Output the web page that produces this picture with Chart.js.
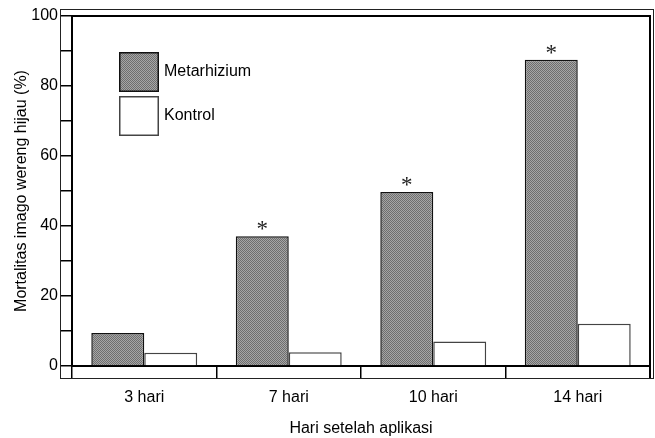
<!DOCTYPE html>
<html>
<head>
<meta charset="utf-8">
<script src="https://cdn.jsdelivr.net/npm/chart.js@4/dist/chart.umd.min.js"></script>
<style>
  html, body { margin: 0; padding: 0; background: #fff; }
  #wrap { width: 655px; height: 438px; position: relative; }
</style>
</head>
<body>
<div id="wrap"><canvas id="c" width="655" height="438"></canvas></div>
<script>
const categories = ['3 hari', '7 hari', '10 hari', '14 hari'];
const metarhizium = [9.4, 37.1, 49.7, 87.5];
const kontrol = [3.8, 3.9, 7.0, 12.1];
const significance = ['', '*', '*', '*'];
const seriesLabels = ['Metarhizium', 'Kontrol'];
const yTickLabels = [0, 20, 40, 60, 80, 100];
const yAxisTitle = 'Mortalitas imago wereng hijau (%)';
const xAxisTitle = 'Hari setelah aplikasi';

const FONT = '"Liberation Sans", Arial, Helvetica, sans-serif';
Chart.defaults.font.family = FONT;
Chart.defaults.color = '#000';

// dotted grey fill like the original hatch
function makePattern() {
  const p = document.createElement('canvas');
  p.width = 2; p.height = 2;
  const g = p.getContext('2d');
  g.fillStyle = '#a6a6a6'; g.fillRect(0, 0, 2, 2);
  g.fillStyle = '#6e6e6e'; g.fillRect(0, 0, 1, 1); g.fillRect(1, 1, 1, 1);
  return g.createPattern(p, 'repeat');
}
const ctx = document.getElementById('c').getContext('2d');
const pattern = makePattern();

const framePlugin = {
  id: 'frame',
  afterDraw(chart) {
    const a = chart.chartArea, c = chart.ctx;
    c.save();
    // outer thin frame
    c.strokeStyle = '#222';
    c.lineWidth = 1;
    c.strokeRect(a.left - 11.5, a.top - 6.5, (a.right + 3) - (a.left - 12), (a.bottom + 12) - (a.top - 7));
    // inner thick top & right
    c.strokeStyle = '#000';
    c.lineWidth = 2;
    c.beginPath();
    c.moveTo(a.left, a.top);
    c.lineTo(a.right, a.top);
    c.lineTo(a.right, a.bottom + 12);
    c.stroke();
    c.restore();
  }
};

const legendPlugin = {
  id: 'customLegend',
  afterDraw(chart) {
    const a = chart.chartArea, c = chart.ctx;
    const x0 = a.left + 47, y0 = a.top + 36, size = 40, gap = 4;
    c.save();
    chart.data.datasets.forEach((ds, i) => {
      const y = y0 + i * (size + gap);
      c.fillStyle = ds.backgroundColor;
      c.fillRect(x0, y, size, size);
      c.strokeStyle = ds.borderColor;
      c.lineWidth = 1.5;
      c.strokeRect(x0 + 0.75, y + 0.75, size - 1.5, size - 1.5);
      c.fillStyle = '#000';
      c.font = '16px ' + FONT;
      c.textAlign = 'left';
      c.textBaseline = 'middle';
      c.fillText(ds.label, x0 + size + 5, y + size / 2);
    });
    c.restore();
  }
};

const starPlugin = {
  id: 'stars',
  afterDatasetsDraw(chart) {
    const meta = chart.getDatasetMeta(0), c = chart.ctx;
    c.save();
    c.fillStyle = '#222';
    c.font = '23px "Liberation Serif", "Times New Roman", serif';
    c.textAlign = 'center';
    c.textBaseline = 'alphabetic';
    meta.data.forEach((bar, i) => {
      if (significance[i]) c.fillText(significance[i], bar.x, bar.y);
    });
    c.restore();
  }
};

new Chart(ctx, {
  type: 'bar',
  data: {
    labels: categories,
    datasets: [
      { label: seriesLabels[0], data: metarhizium, backgroundColor: pattern, borderColor: '#111', borderWidth: 1.5 },
      { label: seriesLabels[1], data: kontrol, backgroundColor: '#ffffff', borderColor: '#444', borderWidth: 1.5 }
    ]
  },
  options: {
    responsive: false,
    animation: false,
    devicePixelRatio: 1,
    layout: { padding: { left: 0, top: 16, right: 5, bottom: 0 } },
    plugins: { legend: { display: false }, tooltip: { enabled: false } },
    datasets: { bar: { categoryPercentage: 0.733, barPercentage: 1.0 } },
    scales: {
      x: {
        afterFit(s) { s.height = 72; },
        grid: { offset: true, drawOnChartArea: false, drawTicks: true, tickLength: 12, color: '#000', lineWidth: 1.5 },
        border: { display: true, color: '#000', width: 2 },
        ticks: { font: { size: 16 }, color: '#000', padding: 10 },
        title: { display: true, text: xAxisTitle, font: { size: 16 }, color: '#000', padding: { top: 0, bottom: 0 } }
      },
      y: {
        min: 0, max: 100,
        afterFit(s) { s.width = 72; },
        afterBuildTicks(s) {
          const t = [];
          for (let v = yTickLabels[0]; v <= yTickLabels[yTickLabels.length - 1]; v += 10) t.push({ value: v });
          s.ticks = t;
        },
        grid: { drawOnChartArea: false, drawTicks: true, tickLength: 12, color: '#000', lineWidth: 1.5 },
        border: { display: true, color: '#000', width: 2 },
        ticks: {
          font: { size: 16 }, color: '#000', padding: 2,
          callback: (v) => yTickLabels.includes(v) ? String(v) : ''
        },
        title: { display: true, text: yAxisTitle, font: { size: 16 }, color: '#000', padding: { top: 12, bottom: 0 } }
      }
    }
  },
  plugins: [starPlugin, framePlugin, legendPlugin]
});
</script>
</body>
</html>
